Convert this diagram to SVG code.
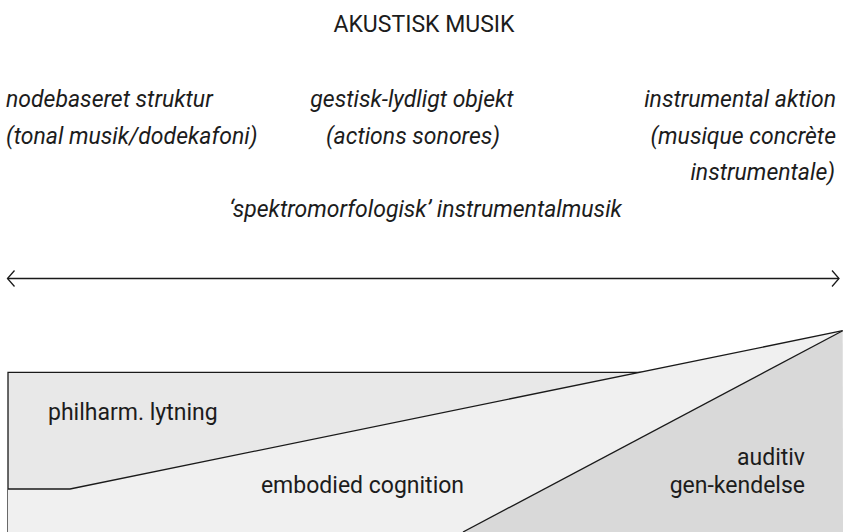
<svg xmlns="http://www.w3.org/2000/svg" width="843" height="532" viewBox="0 0 843 532">
<style>
text{font-family:Roboto,"Liberation Sans",sans-serif;fill:#1c1c1c;font-size:23px}
.it{font-style:italic}
.ln{fill:none;stroke:#1a1a1a;stroke-width:1.3}
</style>
<defs>
<marker id="ah" viewBox="0 0 10 20" refX="8.5" refY="10" markerWidth="10" markerHeight="20" markerUnits="userSpaceOnUse" orient="auto-start-reverse">
<path d="M1.5,2 L8.5,10 L1.5,18" fill="none" stroke="#1a1a1a" stroke-width="1.3"/>
</marker>
</defs>
<rect width="843" height="532" fill="#fff"/>
<g id="title"><text x="424" y="32" text-anchor="middle">AKUSTISK MUSIK</text></g>
<g id="col-left">
<text class="it" x="6" y="107">nodebaseret struktur</text>
<text class="it" x="6" y="143.5">(tonal musik/dodekafoni)</text>
</g>
<g id="col-mid">
<text class="it" x="412" y="107" text-anchor="middle">gestisk-lydligt objekt</text>
<text class="it" x="413" y="143.5" text-anchor="middle">(actions sonores)</text>
</g>
<g id="col-right">
<text class="it" x="836" y="107" text-anchor="end">instrumental aktion</text>
<text class="it" x="836" y="143.5" text-anchor="end">(musique concrète</text>
<text class="it" x="835" y="180" text-anchor="end">instrumentale)</text>
</g>
<g id="spektro"><text class="it" x="425.5" y="216.5" text-anchor="middle">‘spektromorfologisk’ instrumentalmusik</text></g>
<g id="connectors">
<line class="ln" x1="7.5" y1="278.5" x2="839" y2="278.5" marker-start="url(#ah)" marker-end="url(#ah)"/>
</g>
<g id="philharm">
<polygon points="8,372.3 643,372.3 70,489 8,489" fill="#e8e8e8"/>
<polyline class="ln" points="8,532 8,372.3 643,372.3"/>
<text x="48" y="420">philharm. lytning</text>
</g>
<g id="embodied">
<polygon points="8,489 70,489 842.7,330.7 463,532 8,532" fill="#f0f0f0"/>
<polyline class="ln" points="8,489 70,489 842.7,330.7"/>
<text x="362.5" y="493" text-anchor="middle">embodied cognition</text>
</g>
<g id="auditiv">
<polygon points="842.7,330.7 843,532 463,532" fill="#d9d9d9"/>
<line class="ln" x1="842.7" y1="330.7" x2="463" y2="532"/>
<text x="805" y="465" text-anchor="end">auditiv</text>
<text x="805" y="493" text-anchor="end">gen-kendelse</text>
</g>
</svg>
